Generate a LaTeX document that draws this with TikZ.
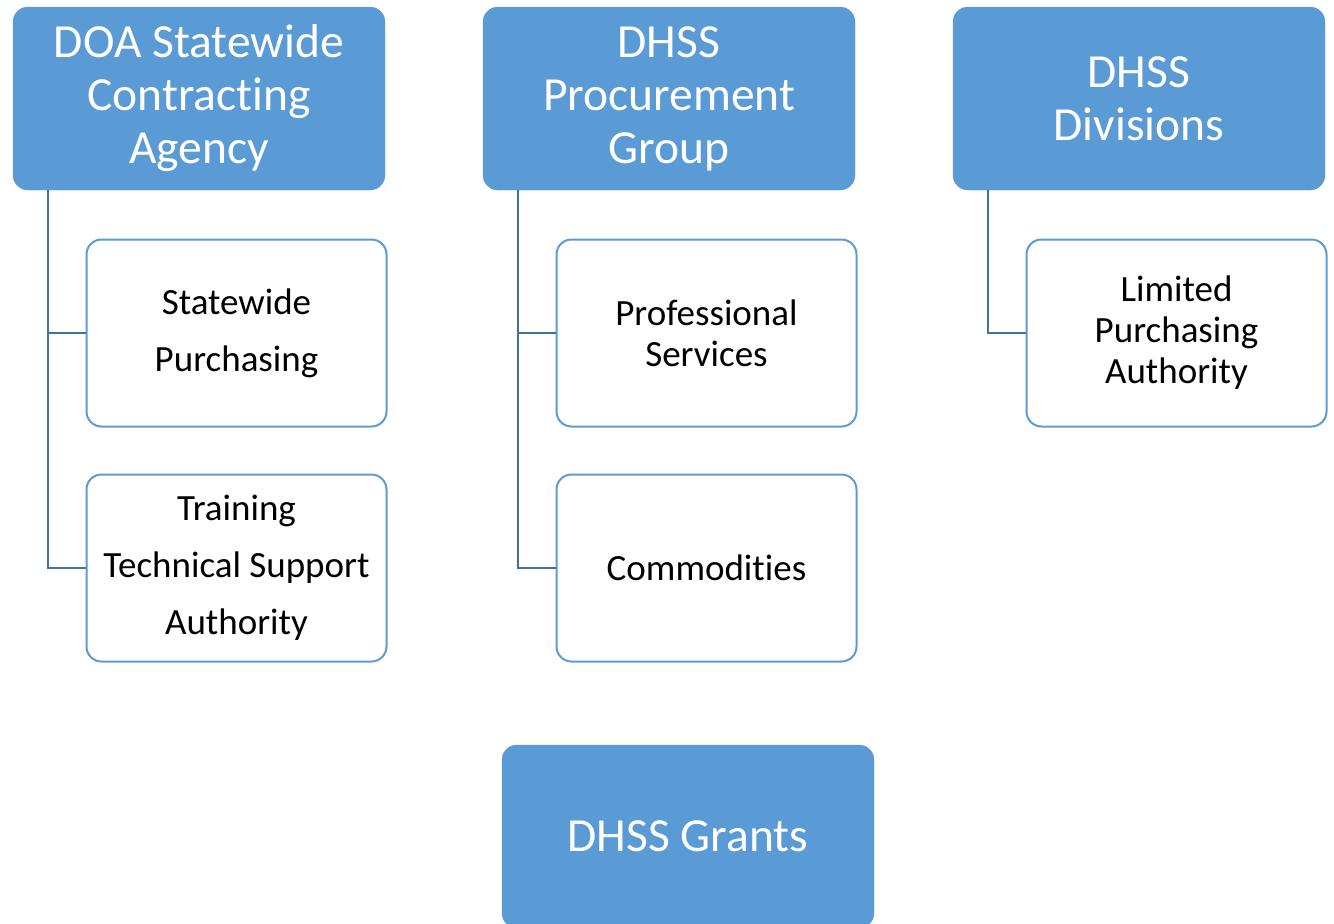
\documentclass[tikz,border=0pt]{standalone}
\usepackage{fontspec}
\setmainfont[Ligatures={NoCommon}]{Carlito}
\definecolor{boxblue}{HTML}{5B9BD5}
\definecolor{lineblue}{HTML}{41719C}
\begin{document}
\begin{tikzpicture}[x=1pt,y=-1pt,
  headbox/.style={fill=boxblue,draw=boxblue,rounded corners=15pt,minimum width=372pt,minimum height=183pt,inner sep=0pt,text=white,align=center,font=\fontsize{47.5}{53}\selectfont},
  subbox/.style={fill=white,draw=boxblue,line width=2pt,rounded corners=15pt,minimum width=300pt,minimum height=187pt,inner sep=0pt,text=black,align=center},
  link/.style={draw=lineblue,line width=2.2pt}]
\useasboundingbox (0,0) rectangle (1334,924);
\node[headbox] (doa) at (199,98.5) {DOA Statewide\\Contracting\\Agency};
\node[headbox] (proc) at (669,98.5) {DHSS\\Procurement\\Group};
\node[headbox] (div) at (1139,98.5) {DHSS\\Divisions};
\node[subbox,font=\fontsize{37}{57}\selectfont] (swp) at (236.5,333) {Statewide\\Purchasing};
\node[subbox,font=\fontsize{37}{57}\selectfont] (trn) at (236.5,568) {Training\\Technical Support\\Authority};
\node[subbox,font=\fontsize{37}{41}\selectfont] (prof) at (706.5,333) {Professional\\Services};
\node[subbox,font=\fontsize{37}{41}\selectfont] (comm) at (706.5,568) {Commodities};
\node[subbox,font=\fontsize{37}{41}\selectfont] (lim) at (1176.5,333) {Limited\\Purchasing\\Authority};
\node[headbox] (grants) at (688,836.5) {DHSS Grants};
\coordinate (a1) at (48,190);
\coordinate (a2) at (518,190);
\coordinate (a3) at (988,190);
\draw[link] (a1) |- (swp.west);
\draw[link] (a1) |- (trn.west);
\draw[link] (a2) |- (prof.west);
\draw[link] (a2) |- (comm.west);
\draw[link] (a3) |- (lim.west);
\end{tikzpicture}
\end{document}
